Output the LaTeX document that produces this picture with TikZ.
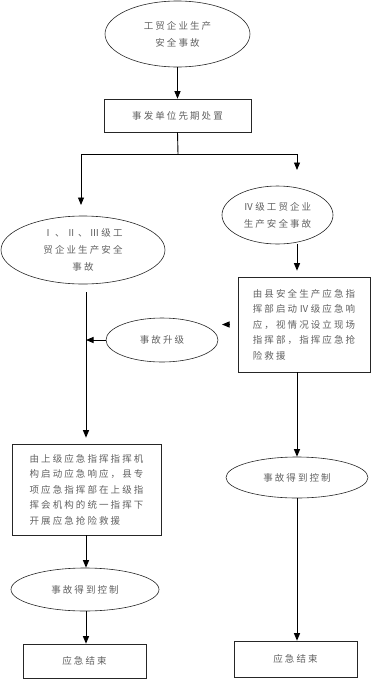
\documentclass[tikz,border=0pt]{standalone}
\usepackage{fontspec}
\setmainfont{Noto Sans CJK SC}[LetterSpace=22]
\usetikzlibrary{shapes.geometric,arrows.meta}
\tikzset{
  shp/.style={draw=black!85, line width=0.6pt, text=black!62, inner sep=0pt},
  ell/.style={shp, ellipse, align=center, font=\fontsize{9.5}{17}\selectfont},
  bx/.style={shp, rectangle, font=\fontsize{9.5}{15.5}\selectfont},
  arr/.style={line width=0.9pt, -{Triangle[width=6pt,length=7.5pt]}},
  ln/.style={line width=0.9pt}
}
\begin{document}
\begin{tikzpicture}[x=1pt,y=-1pt]
\useasboundingbox (0,0) rectangle (371,681);
% top
\node[ell, minimum width=145pt, minimum height=66pt] (e1) at (177.5,34) {工贸企业生产\\安全事故};
\node[bx, minimum width=147pt, minimum height=33pt] (b1) at (177.5,115.5) {事发单位先期处置};
\draw[arr] (e1.south) -- (b1.north);
\coordinate (j) at (178,154);
\coordinate (jl) at (81,154);
\coordinate (jr) at (297,154);
\coordinate (al) at (81,205);
\coordinate (ar) at (297,170);
\draw[ln] (b1.south) -- (j);
\draw[ln] (jl) -- (jr);
\draw[arr] (jl) -- (al);
\draw[arr] (jr) -- (ar);
% left branch
\node[ell, minimum width=164pt, minimum height=68pt] (e2) at (83,250) {Ⅰ、Ⅱ、Ⅲ级工\\贸企业生产安全\\事故};
\coordinate (lv) at (86,292);
\node[ell, minimum width=112pt, minimum height=44pt] (e4) at (162,340) {事故升级};
\node[bx, minimum width=149pt, minimum height=91pt, align=left] (b3) at (86.5,489.5) {由上级应急指挥指挥机\\构启动应急响应，县专\\项应急指挥部在上级指\\挥会机构的统一指挥下\\开展应急抢险救援};
\node[ell, minimum width=148pt, minimum height=43pt] (e5) at (85,589.5) {事故得到控制};
\node[bx, minimum width=123pt, minimum height=34pt] (b4) at (84.5,661) {应急结束};
\draw[arr, shorten >=6pt] (lv) -- (lv |- b3.north);
\draw[arr] (e4.west) -- (e4.west -| lv);
\draw[arr] (b3.south -| lv) -- (e5.north -| lv);
\draw[arr] (e5.south -| lv) -- (b4.north -| lv);
% right branch
\node[ell, minimum width=111pt, minimum height=58pt] (e3) at (277.5,215) {Ⅳ级工贸企业\\生产安全事故};
\node[bx, minimum width=132pt, minimum height=95pt, align=left] (b2) at (304,324.5) {由县安全生产应急指\\挥部启动Ⅳ级应急响\\应，视情况设立现场\\指挥部，指挥应急抢\\险救援};
\coordinate (up) at (222,324.5);
\draw[arr, shorten >=6pt] (e3.south -| jr) -- (b2.north -| jr);
\draw[arr, shorten <=8pt] (b2.west) -- (up);
\node[ell, minimum width=142pt, minimum height=41pt] (e6) at (297,477.5) {事故得到控制};
\node[bx, minimum width=123pt, minimum height=36pt] (b5) at (295.5,659) {应急结束};
\draw[arr] (b2.south -| jr) -- (e6.north -| jr);
\draw[arr] (e6.south -| jr) -- (b5.north -| jr);
\end{tikzpicture}
\end{document}
